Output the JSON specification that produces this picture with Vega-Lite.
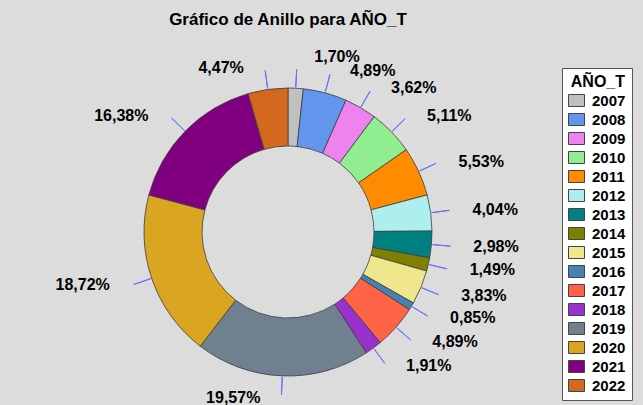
{
  "$schema": "https://vega.github.io/schema/vega-lite/v6.json",
  "autosize": "none",
  "width": 550,
  "height": 346,
  "padding": {"left": 13, "top": 59, "right": 80, "bottom": 0},
  "background": "#dcdcdc",
  "title": {
    "text": "Gráfico de Anillo para AÑO_T",
    "font": "Liberation Sans",
    "fontSize": 17,
    "fontWeight": "bold",
    "color": "black",
    "anchor": "middle",
    "offset": 20
  },
  "config": {
    "view": {"stroke": null},
    "font": "Liberation Sans"
  },
  "data": {
    "values": [
      {"year": "2007", "pct": 1.70},
      {"year": "2008", "pct": 4.89},
      {"year": "2009", "pct": 3.62},
      {"year": "2010", "pct": 5.11},
      {"year": "2011", "pct": 5.53},
      {"year": "2012", "pct": 4.04},
      {"year": "2013", "pct": 2.98},
      {"year": "2014", "pct": 1.49},
      {"year": "2015", "pct": 3.83},
      {"year": "2016", "pct": 0.85},
      {"year": "2017", "pct": 4.89},
      {"year": "2018", "pct": 1.91},
      {"year": "2019", "pct": 19.57},
      {"year": "2020", "pct": 18.72},
      {"year": "2021", "pct": 16.38},
      {"year": "2022", "pct": 4.47}
    ]
  },
  "transform": [
    {"window": [{"op": "sum", "field": "pct", "as": "cum"}], "sort": [{"field": "year"}], "frame": [null, 0]},
    {"calculate": "datum.cum - datum.pct", "as": "start"},
    {"calculate": "datum.cum - datum.pct / 2", "as": "mid"},
    {"calculate": "replace(format(datum.pct, '.2f'), '.', ',') + '%'", "as": "label"}
  ],
  "layer": [
    {
      "mark": {"type": "arc", "radius": 144, "radius2": 86, "stroke": "#3c3c3c", "strokeWidth": 0.8},
      "encoding": {
        "theta": {"field": "cum", "type": "quantitative", "stack": null},
        "theta2": {"field": "start"},
        "color": {
          "field": "year",
          "type": "nominal",
          "scale": {
            "domain": ["2007","2008","2009","2010","2011","2012","2013","2014","2015","2016","2017","2018","2019","2020","2021","2022"],
            "range": ["#c0c0c0","#6495ed","#ee82ee","#90ee90","#ff8c00","#afeeee","#008080","#808000","#f0e68c","#4682b4","#ff6347","#9932cc","#708090","#daa520","#800080","#d2691e"]
          },
          "legend": {
            "title": "AÑO_T",
            "orient": "none",
            "legendX": 549,
            "legendY": 9,
            "fillColor": "white",
            "strokeColor": "#555555",
            "padding": 6,
            "titleFont": "Liberation Sans",
            "titleFontSize": 16,
            "titleFontWeight": "bold",
            "titleColor": "black",
            "titlePadding": 2,
            "titleAnchor": "end",
            "labelFont": "Liberation Sans",
            "labelFontSize": 15,
            "labelFontWeight": "bold",
            "labelColor": "black",
            "labelOffset": 7,
            "symbolType": "M-1,-0.75H1V0.75H-1Z",
            "symbolSize": 256,
            "symbolStrokeColor": "#444444",
            "symbolStrokeWidth": 1,
            "symbolOpacity": 1,
            "rowPadding": 2
          }
        }
      }
    },
    {
      "mark": {"type": "arc", "radius": 163, "radius2": 145, "stroke": "#6a6aff", "strokeWidth": 1, "fill": null},
      "encoding": {
        "theta": {"field": "mid", "type": "quantitative", "stack": null},
        "theta2": {"field": "mid"}
      }
    },
    {
      "transform": [{"filter": "datum.year != '2007' && datum.year < '2019'"}],
      "mark": {"type": "text", "radius": 167, "dx": 19, "align": "left", "baseline": "middle", "font": "Liberation Sans", "fontSize": 16, "fontWeight": "bold", "color": "black"},
      "encoding": {
        "theta": {"field": "mid", "type": "quantitative", "stack": null},
        "text": {"field": "label"}
      }
    },
    {
      "transform": [{"filter": "datum.year == '2007'"}],
      "mark": {"type": "text", "radius": 175, "dx": 17, "align": "left", "baseline": "middle", "font": "Liberation Sans", "fontSize": 16, "fontWeight": "bold", "color": "black"},
      "encoding": {
        "theta": {"field": "mid", "type": "quantitative", "stack": null},
        "text": {"field": "label"}
      }
    },
    {
      "transform": [{"filter": "datum.year >= '2019'"}],
      "mark": {"type": "text", "radius": 166, "dx": -21, "align": "right", "baseline": "middle", "font": "Liberation Sans", "fontSize": 16, "fontWeight": "bold", "color": "black"},
      "encoding": {
        "theta": {"field": "mid", "type": "quantitative", "stack": null},
        "text": {"field": "label"}
      }
    }
  ]
}
